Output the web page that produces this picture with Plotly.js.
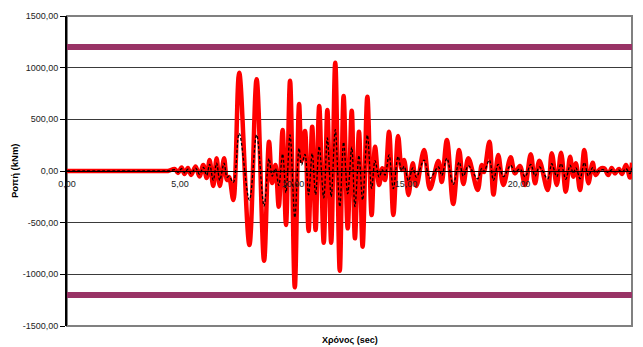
<!DOCTYPE html>
<html>
<head>
<meta charset="utf-8">
<script src="https://cdn.plot.ly/plotly-3.0.1.min.js"></script>
<style>html,body{margin:0;padding:0;background:#fff;}#chart{width:643px;height:347px;}</style>
</head>
<body>
<div id="chart"></div>
<script>
// Time (sec)
const timeSec = [0,4.29,4.47,4.78,4.91,5.07,5.20,5.35,5.49,5.69,5.86,6.03,6.18,6.31,6.47,6.62,6.76,6.95,7.08,7.17,7.36,
 7.62,8.07,8.39,8.72,8.94,9.08,9.22,9.37,9.54,9.69,9.87,10.08,10.27,10.38,10.53,10.69,10.85,11.00,11.16,11.36,11.52,11.69,
 11.87,12.07,12.24,12.42,12.60,12.74,12.92,13.08,13.29,13.48,13.63,13.81,13.95,14.07,14.25,14.44,14.65,14.81,14.92,15.11,
 15.30,15.46,15.80,16.06,16.43,16.58,16.81,17.09,17.35,17.54,17.76,18.17,18.35,18.45,18.69,18.87,19.08,19.31,19.63,19.82,
 20.04,20.27,20.52,20.71,20.90,21.27,21.45,21.67,21.86,22.07,22.26,22.40,22.52,22.70,22.89,23.07,23.26,23.39,23.58,23.77,
 23.95,24.10,24.25,24.42,24.56,24.73,24.91,25.00];

// Moment (kNm) – red series
const momentRed = [0,0,0,19,-19,34,-29,29,-39,44,-53,58,-68,106,-145,123,-145,123,-87,-58,-281,
 951,-716,887,-868,284,-116,58,-345,397,-523,874,-1126,648,97,387,-581,429,-571,629,-694,590,-694,
 1048,-965,726,-555,584,-652,381,-732,719,-426,235,-135,26,-87,381,-426,339,10,106,-232,
 74,-145,203,-174,97,-106,300,-319,203,-126,123,-184,58,-10,284,-228,155,-135,132,-23,
 48,-135,161,-119,100,-184,171,-135,177,-200,139,-55,74,-184,203,-119,81,-39,19,26,
 -39,29,-23,19,-29,58,-64,80];

// Moment (kNm) – black dashed series 1
const momentBlackA = [0,0,0,18,-18,33,-28,28,-38,43,-52,56,-66,102,-140,118,-140,118,-84,-56,-270,
 930,-690,745,-840,275,-112,56,-335,385,-505,850,-1090,628,94,375,-562,415,-552,608,-672,570,-672,
 1015,-935,702,-537,565,-630,368,-708,695,-412,227,-130,25,-84,368,-412,328,10,102,-224,
 72,-140,196,-168,94,-102,290,-308,196,-122,119,-178,56,-10,275,-220,150,-130,128,-22,
 46,-130,156,-115,97,-178,165,-130,171,-193,134,-53,72,-178,196,-115,78,-38,18,25,
 -38,28,-22,18,-28,56,-62,77];

// Moment (kNm) – black dashed series 2
const momentBlackB = [0,0,0,12,-12,22,-18,18,-25,28,-33,36,-42,65,-90,76,-90,76,-60,-50,-110,
 365,-280,350,-340,120,-50,25,-140,165,-210,350,-450,220,60,160,-230,170,-230,240,-260,320,-250,
 400,-345,280,-220,230,-345,150,-280,348,-170,100,-60,10,-40,155,-170,140,5,45,-95,
 30,-60,106,-70,40,-45,123,-130,85,-50,50,-75,25,-5,106,-90,65,-55,55,-10,
 20,-55,65,-50,40,-75,70,-55,72,-80,56,-22,30,-75,82,-48,33,-16,8,10,
 -16,12,-9,8,-12,23,-26,32];

// Limit lines
const limitX = [0, 25];
const limitUpper = [1200, 1200];
const limitLower = [-1200, -1200];

// Tick labels
const xTickVals = [0,5,10,15,20,25];
const xTickText = ['0,00','5,00','10,00','15,00','20,00','25,00'];
const yTickVals = [-1500,-1000,-500,0,500,1000,1500];
const yTickText = ['-1500,00','-1000,00','-500,00','0,00','500,00','1000,00','1500,00'];

const FONT = 'Liberation Sans, Arial, sans-serif';

const traces = [
  {x: limitX, y: limitUpper, mode: 'lines', line: {color: '#993366', width: 6}, hoverinfo: 'skip'},
  {x: limitX, y: limitLower, mode: 'lines', line: {color: '#993366', width: 6}, hoverinfo: 'skip'},
  {x: timeSec, y: momentBlackA, mode: 'lines', line: {color: '#000000', width: 1.5, dash: '3px,2px', shape: 'spline', smoothing: 1}},
  {x: timeSec, y: momentRed, mode: 'lines', line: {color: '#FF0000', width: 4.5, shape: 'spline', smoothing: 1}},
  {x: timeSec, y: momentBlackB, mode: 'lines', line: {color: '#000000', width: 1.3, dash: '3px,2px', shape: 'spline', smoothing: 1}}
];

const layout = {
  width: 643, height: 347,
  margin: {l: 67, r: 11, t: 16, b: 21, pad: 0},
  paper_bgcolor: '#ffffff', plot_bgcolor: '#ffffff',
  showlegend: false,
  font: {family: FONT, size: 9, color: '#000'},
  xaxis: {
    range: [0, 25], anchor: 'free', position: 0.5,
    tickmode: 'array', tickvals: xTickVals, ticktext: xTickText,
    showline: true, linecolor: '#000', linewidth: 1,
    showgrid: false, zeroline: false,
    ticks: 'outside', ticklen: 4, tickcolor: 'rgba(0,0,0,0)',
    tickfont: {family: FONT, size: 9, color: '#222'}
  },
  yaxis: {
    range: [-1500, 1500],
    tickmode: 'array', tickvals: yTickVals, ticktext: yTickText,
    showline: true, linecolor: '#000', linewidth: 2,
    showgrid: true, gridcolor: '#3a3a3a', gridwidth: 1,
    zeroline: false,
    ticks: 'outside', ticklen: 5, tickcolor: '#000', tickwidth: 1,
    tickfont: {family: FONT, size: 9, color: '#222'}
  },
  shapes: [
    {type: 'rect', xref: 'paper', yref: 'paper', x0: 0, x1: 1, y0: 0, y1: 1,
     line: {color: '#808080', width: 2}, layer: 'below'}
  ],
  annotations: [
    {text: '<b>Χρόνος (sec)</b>', xref: 'paper', yref: 'paper', x: 0.5, y: 0, yshift: -14,
     xanchor: 'center', yanchor: 'middle', showarrow: false, font: {family: FONT, size: 9, color: '#000'}},
    {text: '<b>Ροπή (kNm)</b>', xref: 'paper', yref: 'paper', x: 0, xshift: -53, y: 0.5,
     xanchor: 'center', yanchor: 'middle', textangle: -90, showarrow: false, font: {family: FONT, size: 9.5, color: '#000'}}
  ]
};

Plotly.newPlot('chart', traces, layout, {displayModeBar: false, staticPlot: true});
</script>
</body>
</html>
